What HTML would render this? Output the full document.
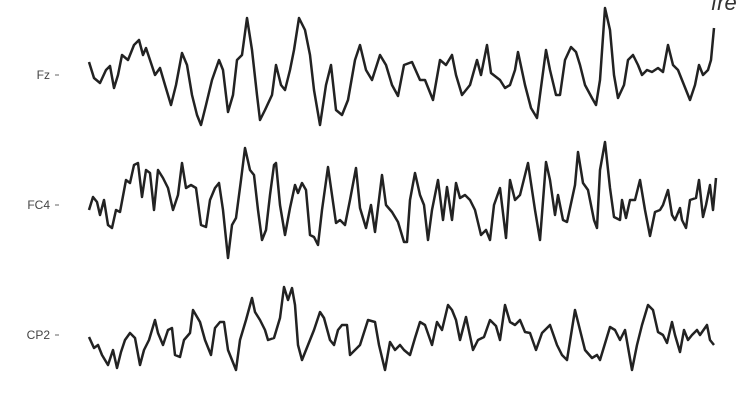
<!DOCTYPE html>
<html><head><meta charset="utf-8"><style>
html,body{margin:0;padding:0;background:#fff;width:750px;height:412px;overflow:hidden}
svg{display:block}
text{font-family:"Liberation Sans",sans-serif;fill:#444;font-size:12px}
</style></head><body>
<svg id="chart" width="750" height="412" viewBox="0 0 750 412">
<text x="711" y="10" style="font-size:22px;font-style:italic;fill:#333">fre</text>
<g id="traces"></g>
</svg>
<script>
const channels = ["Fz", "FC4", "CP2"];
const fzTime = [1,6,12,18,22,26,30,34,40,46,51,55,58,62,67,72,77,83,88,94,99,104,109,113,118,124,131,135,140,145,149,154,159,164,169,172,177,184,188,193,197,202,206,211,217,222,226,232,238,243,248,254,260,267,272,278,284,292,298,304,310,316,324,332,337,345,352,358,364,368,374,378,382,389,393,399,403,412,417,422,427,430,437,443,449,452,458,462,468,472,477,483,488,492,497,504,508,512,517,522,526,530,536,540,545,550,554,559,564,570,575,580,585,590,596,602,607,611,615,620,623,626];
const fzValues = [-13,3,8,-5,-9,13,0,-20,-15,-30,-35,-20,-27,-15,0,-7,10,30,10,-22,-10,20,40,50,30,5,-15,-5,37,20,-15,-20,-57,-25,20,45,35,20,-10,10,15,-5,-25,-57,-45,-20,15,50,10,-10,35,40,25,-15,-30,-5,5,-20,-10,10,21,-10,-13,5,5,25,-15,-10,-20,0,20,15,10,-15,0,-30,-2,5,13,10,-5,-23,10,33,43,20,-25,-5,20,20,-15,-28,-23,-10,10,23,30,5,-67,-45,0,23,10,-15,-20,-10,0,-5,-3,-7,-3,-30,-10,-5,10,25,10,-10,0,-5,-15,-47];
const fc4Time = [1,5,9,12,16,20,24,28,32,38,42,46,50,54,58,62,66,70,75,80,85,90,94,98,103,108,113,118,122,127,131,135,140,144,148,153,157,162,166,170,174,178,182,186,188,192,197,202,207,210,214,218,222,226,230,234,240,244,248,252,257,262,268,272,278,283,287,294,298,304,310,316,319,322,327,332,336,340,344,350,355,359,364,368,372,377,382,387,393,398,402,406,412,418,422,427,432,440,447,452,458,462,467,470,475,479,487,490,495,500,506,509,512,517,522,526,532,534,538,542,547,552,557,562,567,572,575,580,584,587,592,594,598,602,608,611,615,618,622,625,628];
const fc4Values = [5,-8,-3,10,-5,20,23,5,7,-25,-22,-40,-42,-8,-35,-32,5,-35,-27,-17,5,-10,-42,-17,-20,-17,20,22,-5,-17,-22,5,53,20,13,-25,-57,-35,-30,5,35,25,-10,-40,-42,0,30,3,-20,-12,-22,-15,30,32,40,5,-38,-10,18,15,20,-5,-37,3,23,0,27,-30,0,7,17,37,37,-5,-32,-10,0,35,5,-25,15,-18,15,-22,-7,-10,-5,5,30,25,35,0,-17,33,-25,-5,-10,-42,5,35,-43,-25,10,-10,15,17,-20,-53,-22,-15,15,23,-35,-63,-17,12,15,-5,13,-5,-5,-25,5,31,7,5,0,-15,10,15,3,15,23,-5,-7,-25,12,0,-20,5,-27];
const cp2Time = [1,6,10,14,20,25,29,33,37,42,47,52,56,61,67,70,75,80,84,87,92,96,102,105,112,117,123,127,132,136,140,148,152,158,164,167,172,177,180,186,192,196,200,204,207,210,214,220,226,232,236,242,246,250,254,259,262,267,272,280,287,291,297,302,307,312,316,322,327,332,337,344,349,354,360,364,368,372,378,385,390,396,402,408,412,417,422,427,432,437,442,448,454,462,469,474,479,487,492,497,504,509,512,522,527,532,537,544,549,554,560,565,570,575,579,584,587,592,596,600,604,609,612,619,622,626];
const cp2Values = [2,13,10,20,30,15,33,17,5,-2,3,30,15,5,-15,-2,10,-5,-7,20,22,5,-2,-25,-13,5,20,-7,-13,-13,15,35,5,-15,-37,-23,-15,-5,5,3,-17,-48,-35,-47,-30,10,25,10,-5,-23,-17,5,10,-5,-10,-10,20,15,10,-15,-13,10,35,7,15,10,15,20,3,-13,-10,10,-13,-5,-30,-25,-15,5,-18,15,5,2,-15,-9,5,-30,-13,-10,-15,-3,-2,15,-2,-10,10,20,25,-25,-5,15,23,20,25,-8,-5,5,-5,35,10,-10,-30,-25,-3,0,8,-13,0,17,-5,5,0,-5,0,-10,5,10];

const NS = "http://www.w3.org/2000/svg";
const g = document.getElementById("traces");
function xScale(t){ return 88 + t; }
function channelBaseline(i){ return 75 + i * 130; }
function yScale(i, v){ return channelBaseline(i) + v; }
const series = [[fzTime, fzValues], [fc4Time, fc4Values], [cp2Time, cp2Values]];
channels.forEach((name, i) => {
  const base = channelBaseline(i);
  const lbl = document.createElementNS(NS, "text");
  lbl.setAttribute("x", 50);
  lbl.setAttribute("y", base + 4);
  lbl.setAttribute("text-anchor", "end");
  lbl.textContent = name;
  
  
  g.appendChild(lbl);
  const tk = document.createElementNS(NS, "line");
  tk.setAttribute("x1", 55); tk.setAttribute("x2", 59);
  tk.setAttribute("y1", base); tk.setAttribute("y2", base);
  tk.setAttribute("stroke", "#666"); tk.setAttribute("stroke-width", "1");
  
  
  g.appendChild(tk);
  const [ts, vs] = series[i];
  const n = Math.min(ts.length, vs.length);
  let d = "";
  for (let k = 0; k < n; k++) d += (k ? "L" : "M") + xScale(ts[k]).toFixed(1) + "," + yScale(i, vs[k]).toFixed(1);
  const p = document.createElementNS(NS, "path");
  p.setAttribute("d", d);
  p.setAttribute("fill", "none");
  p.setAttribute("stroke", "#222");
  p.setAttribute("stroke-width", "2.5");
  p.setAttribute("stroke-linejoin", "round");
  
  
  g.appendChild(p);
});
</script>
</body></html>
